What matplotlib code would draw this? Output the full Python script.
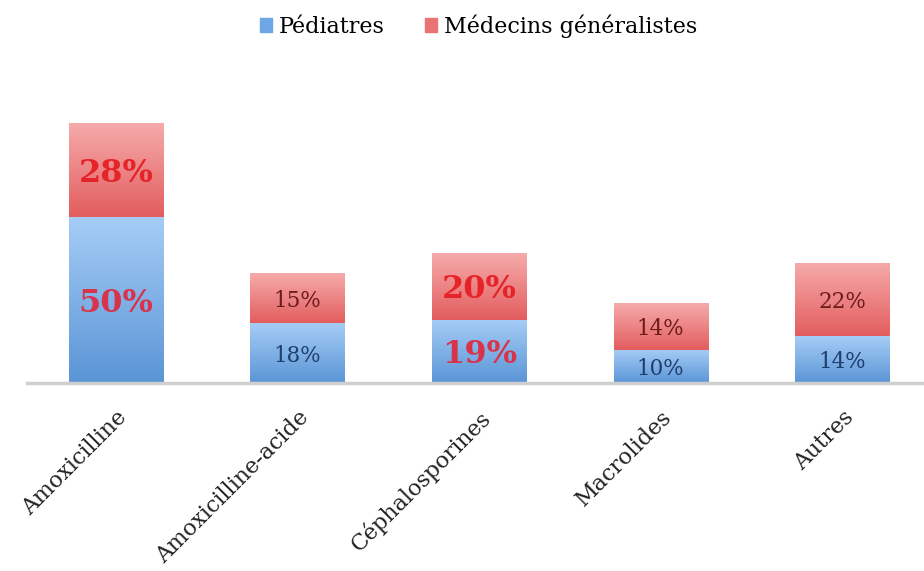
import numpy as np
import matplotlib.pyplot as plt
from matplotlib.colors import LinearSegmentedColormap
from matplotlib.patches import Rectangle

categories = ["Amoxicilline", "Amoxicilline-acide", "Céphalosporines", "Macrolides", "Autres"]
pediatres = [50, 18, 19, 10, 14]
generalistes = [28, 15, 20, 14, 22]
# labels drawn large and bold (highlighted values)
highlight_ped = [True, False, True, False, False]
highlight_gen = [True, False, True, False, False]

plt.rcParams['font.family'] = ['DejaVu Serif']

fig = plt.figure(figsize=(9.24, 5.71), dpi=100)
ax = fig.add_axes([27 / 924, 1 - 383 / 571, 1 - 27 / 924, (383 - 80) / 571])

x = np.arange(len(categories))
width = 0.52

blue_cmap = LinearSegmentedColormap.from_list("blue", ["#5a95d6", "#a6cdf6"])
red_cmap = LinearSegmentedColormap.from_list("red", ["#e35d5e", "#f6abab"])
grad = np.linspace(0, 1, 256).reshape(-1, 1)


def gradient_bars(bars, cmap):
    for b in bars:
        x0, y0 = b.get_x(), b.get_y()
        w, h = b.get_width(), b.get_height()
        im = ax.imshow(grad, cmap=cmap, aspect='auto', origin='lower',
                       extent=(x0, x0 + w, y0, y0 + h), zorder=2)
        im.set_clip_path(b)
        b.set_facecolor('none')


b1 = ax.bar(x, pediatres, width, color="#7fb2ea", edgecolor="none", zorder=2)
b2 = ax.bar(x, generalistes, width, bottom=pediatres, color="#ee8484",
            edgecolor="none", zorder=2)
gradient_bars(b1, blue_cmap)
gradient_bars(b2, red_cmap)

ax.set_xlim(-0.49, 4.45)
ax.set_ylim(0, 91)

for i in range(len(categories)):
    yp = pediatres[i] / 2
    if highlight_ped[i]:
        ax.text(x[i], yp, f"{pediatres[i]}%", ha='center', va='center_baseline',
                fontsize=23, fontweight='bold', color="#d8334b", zorder=3)
    else:
        ax.text(x[i], yp, f"{pediatres[i]}%", ha='center', va='center_baseline',
                fontsize=15.5, color="#1f3f6e", zorder=3)
    yg = pediatres[i] + generalistes[i] / 2
    if highlight_gen[i]:
        ax.text(x[i], yg, f"{generalistes[i]}%", ha='center', va='center_baseline',
                fontsize=23, fontweight='bold', color="#e5242a", zorder=3)
    else:
        ax.text(x[i], yg, f"{generalistes[i]}%", ha='center', va='center_baseline',
                fontsize=15.5, color="#6e1c1c", zorder=3)

for s in ['top', 'right', 'left']:
    ax.spines[s].set_visible(False)
ax.spines['bottom'].set_color("#cfcfcf")
ax.spines['bottom'].set_linewidth(2.5)
ax.set_yticks([])
ax.set_xticks(x)
ax.set_xticklabels(categories, rotation=45, ha='right', rotation_mode='anchor',
                   fontsize=16, color="#222222")
ax.tick_params(axis='x', length=0, pad=17)

handles = [Rectangle((0, 0), 1, 1, color="#6fa7e6"),
           Rectangle((0, 0), 1, 1, color="#ea7373")]
fig.legend(handles, ["Pédiatres", "Médecins généralistes"], loc='upper center',
           bbox_to_anchor=(0.518, 1.01), ncol=2, frameon=False, fontsize=16,
           handlelength=0.55, handleheight=0.55, handletextpad=0.3, columnspacing=1.8)

fig.savefig("out.png", dpi=100)
